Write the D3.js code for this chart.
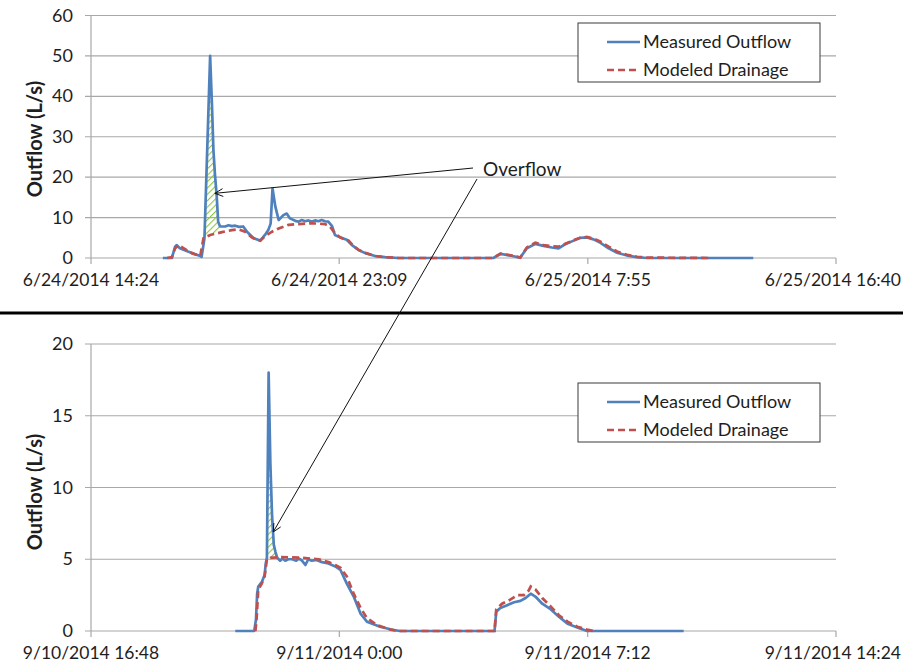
<!DOCTYPE html>
<html>
<head>
<meta charset="utf-8">
<script src="https://cdn.jsdelivr.net/npm/d3@7"></script>
<style>
  body { margin: 0; background: #fff; }
  svg { display: block; }
  text { font-family: Lato, "Open Sans", sans-serif; fill: #1e1e1e; }
</style>
</head>
<body>
<svg id="chart" width="903" height="667"></svg>
<script>
// ---- June 2014 event ----
const juneTicks = ["2014-06-24 14:24", "2014-06-24 23:09", "2014-06-25 07:55", "2014-06-25 16:40"];
const juneYTicks = [0, 10, 20, 30, 40, 50, 60];
const juneMeasured = [
  ["2014-06-24 16:56", 0], ["2014-06-24 17:15", 0], ["2014-06-24 17:22", 2.8], ["2014-06-24 17:25", 3.2],
  ["2014-06-24 17:32", 2.4], ["2014-06-24 17:49", 1.6], ["2014-06-24 18:15", 0.5], ["2014-06-24 18:18", 0.3],
  ["2014-06-24 18:24", 4.9], ["2014-06-24 18:36", 50], ["2014-06-24 18:40", 37.5], ["2014-06-24 18:43", 26.7],
  ["2014-06-24 18:46", 21], ["2014-06-24 18:50", 15.2], ["2014-06-24 18:53", 9], ["2014-06-24 18:57", 7.8],
  ["2014-06-24 19:08", 7.8], ["2014-06-24 19:15", 8.1], ["2014-06-24 19:22", 7.9], ["2014-06-24 19:29", 8.0],
  ["2014-06-24 19:37", 7.7], ["2014-06-24 19:46", 7.8], ["2014-06-24 19:54", 6.5], ["2014-06-24 20:08", 4.9],
  ["2014-06-24 20:22", 4.3], ["2014-06-24 20:32", 5.7], ["2014-06-24 20:39", 6.9], ["2014-06-24 20:44", 8.5],
  ["2014-06-24 20:48", 17.2], ["2014-06-24 20:54", 12.7], ["2014-06-24 21:01", 9.4], ["2014-06-24 21:11", 10.6],
  ["2014-06-24 21:18", 11], ["2014-06-24 21:25", 9.8], ["2014-06-24 21:36", 9.2], ["2014-06-24 21:43", 9.0],
  ["2014-06-24 21:50", 9.4], ["2014-06-24 21:57", 9.1], ["2014-06-24 22:04", 9.3], ["2014-06-24 22:11", 9.0],
  ["2014-06-24 22:18", 9.3], ["2014-06-24 22:25", 9.1], ["2014-06-24 22:32", 9.4], ["2014-06-24 22:39", 9.1],
  ["2014-06-24 22:46", 9.0], ["2014-06-24 22:54", 7.9], ["2014-06-24 23:00", 5.7], ["2014-06-24 23:11", 5.1],
  ["2014-06-24 23:25", 4.5], ["2014-06-24 23:36", 3.2], ["2014-06-24 23:50", 2.0], ["2014-06-25 00:04", 1.2],
  ["2014-06-25 00:25", 0.5], ["2014-06-25 00:46", 0.2], ["2014-06-25 01:14", 0], ["2014-06-25 04:35", 0],
  ["2014-06-25 04:50", 1.0], ["2014-06-25 04:57", 0.9], ["2014-06-25 05:15", 0.5], ["2014-06-25 05:32", 0.1],
  ["2014-06-25 05:46", 2.4], ["2014-06-25 06:04", 3.5], ["2014-06-25 06:21", 3.0], ["2014-06-25 06:39", 2.6],
  ["2014-06-25 06:53", 2.4], ["2014-06-25 07:07", 3.4], ["2014-06-25 07:25", 4.3], ["2014-06-25 07:39", 5.0],
  ["2014-06-25 07:53", 5.1], ["2014-06-25 08:07", 4.6], ["2014-06-25 08:21", 3.8], ["2014-06-25 08:39", 2.4],
  ["2014-06-25 08:57", 1.3], ["2014-06-25 09:18", 0.6], ["2014-06-25 09:39", 0.2], ["2014-06-25 10:00", 0],
  ["2014-06-25 13:45", 0]
];
const juneModeled = [
  ["2014-06-24 17:05", 0], ["2014-06-24 17:15", 0.2], ["2014-06-24 17:22", 2.4], ["2014-06-24 17:29", 3.2],
  ["2014-06-24 17:43", 2.2], ["2014-06-24 17:57", 1.2], ["2014-06-24 18:15", 0.5], ["2014-06-24 18:22", 4.9],
  ["2014-06-24 18:36", 5.7], ["2014-06-24 19:01", 6.4], ["2014-06-24 19:22", 6.9], ["2014-06-24 19:36", 7.1],
  ["2014-06-24 19:50", 6.5], ["2014-06-24 20:04", 5.1], ["2014-06-24 20:22", 4.3], ["2014-06-24 20:32", 5.4],
  ["2014-06-24 20:47", 6.5], ["2014-06-24 21:01", 7.3], ["2014-06-24 21:22", 8.2], ["2014-06-24 21:43", 8.4],
  ["2014-06-24 22:11", 8.6], ["2014-06-24 22:39", 8.4], ["2014-06-24 22:50", 7.7], ["2014-06-24 23:00", 6.1],
  ["2014-06-24 23:11", 5.1], ["2014-06-24 23:29", 4.3], ["2014-06-24 23:39", 3.0], ["2014-06-24 23:50", 2.0],
  ["2014-06-25 00:04", 1.3], ["2014-06-25 00:25", 0.5], ["2014-06-25 00:46", 0.2], ["2014-06-25 01:14", 0],
  ["2014-06-25 04:35", 0], ["2014-06-25 04:50", 1.1], ["2014-06-25 05:00", 0.9], ["2014-06-25 05:15", 0.6],
  ["2014-06-25 05:32", 0.1], ["2014-06-25 05:46", 2.6], ["2014-06-25 06:04", 3.8], ["2014-06-25 06:21", 3.2],
  ["2014-06-25 06:39", 2.9], ["2014-06-25 06:53", 2.8], ["2014-06-25 07:07", 3.5], ["2014-06-25 07:25", 4.4],
  ["2014-06-25 07:39", 5.0], ["2014-06-25 07:53", 5.2], ["2014-06-25 08:07", 4.8], ["2014-06-25 08:21", 4.1],
  ["2014-06-25 08:39", 2.8], ["2014-06-25 08:57", 1.6], ["2014-06-25 09:18", 0.8], ["2014-06-25 09:39", 0.3],
  ["2014-06-25 10:00", 0.1], ["2014-06-25 12:14", 0]
];
const juneOverflowWindow = ["2014-06-24 18:24", "2014-06-24 18:55"];

// ---- September 2014 event ----
const septTicks = ["2014-09-10 16:48", "2014-09-11 00:00", "2014-09-11 07:12", "2014-09-11 14:24"];
const septYTicks = [0, 5, 10, 15, 20];
const septMeasured = [
  ["2014-09-10 20:59", 0], ["2014-09-10 21:32", 0], ["2014-09-10 21:35", 0.8], ["2014-09-10 21:37", 2.6],
  ["2014-09-10 21:39", 3.1], ["2014-09-10 21:45", 3.4], ["2014-09-10 21:50", 3.9], ["2014-09-10 21:52", 4.7],
  ["2014-09-10 21:54", 5.1], ["2014-09-10 21:57", 18], ["2014-09-10 22:00", 11.7], ["2014-09-10 22:03", 8.0],
  ["2014-09-10 22:06", 6.0], ["2014-09-10 22:09", 5.5], ["2014-09-10 22:12", 5.1], ["2014-09-10 22:17", 4.9],
  ["2014-09-10 22:21", 5.05], ["2014-09-10 22:26", 4.9], ["2014-09-10 22:31", 5.0], ["2014-09-10 22:38", 5.0],
  ["2014-09-10 22:45", 4.9], ["2014-09-10 22:50", 5.05], ["2014-09-10 22:55", 4.9], ["2014-09-10 23:01", 4.6],
  ["2014-09-10 23:06", 5.0], ["2014-09-10 23:12", 4.9], ["2014-09-10 23:20", 4.95], ["2014-09-10 23:30", 4.8],
  ["2014-09-10 23:41", 4.7], ["2014-09-10 23:53", 4.5], ["2014-09-11 00:02", 4.25], ["2014-09-11 00:13", 3.3],
  ["2014-09-11 00:25", 2.4], ["2014-09-11 00:37", 1.2], ["2014-09-11 00:48", 0.65], ["2014-09-11 01:11", 0.3],
  ["2014-09-11 01:34", 0.07], ["2014-09-11 01:46", 0], ["2014-09-11 04:30", 0], ["2014-09-11 04:33", 1.35],
  ["2014-09-11 04:40", 1.6], ["2014-09-11 04:52", 1.8], ["2014-09-11 05:04", 2.0], ["2014-09-11 05:15", 2.1],
  ["2014-09-11 05:24", 2.3], ["2014-09-11 05:33", 2.6], ["2014-09-11 05:41", 2.4], ["2014-09-11 05:53", 1.9],
  ["2014-09-11 06:08", 1.5], ["2014-09-11 06:22", 1.0], ["2014-09-11 06:37", 0.5], ["2014-09-11 06:54", 0.25],
  ["2014-09-11 07:11", 0], ["2014-09-11 09:59", 0]
];
const septModeled = [
  ["2014-09-10 21:34", 0], ["2014-09-10 21:36", 0.8], ["2014-09-10 21:39", 2.9], ["2014-09-10 21:45", 3.3],
  ["2014-09-10 21:50", 3.8], ["2014-09-10 21:54", 5.0], ["2014-09-10 22:00", 5.1], ["2014-09-10 22:20", 5.15],
  ["2014-09-10 22:55", 5.1], ["2014-09-10 23:24", 5.0], ["2014-09-10 23:41", 4.8], ["2014-09-10 23:53", 4.6],
  ["2014-09-11 00:02", 4.4], ["2014-09-11 00:13", 3.8], ["2014-09-11 00:25", 2.6], ["2014-09-11 00:37", 1.6],
  ["2014-09-11 00:48", 0.9], ["2014-09-11 01:06", 0.4], ["2014-09-11 01:29", 0.1], ["2014-09-11 01:46", 0],
  ["2014-09-11 04:30", 0], ["2014-09-11 04:33", 1.5], ["2014-09-11 04:43", 1.9], ["2014-09-11 04:58", 2.2],
  ["2014-09-11 05:10", 2.5], ["2014-09-11 05:21", 2.5], ["2014-09-11 05:29", 2.8], ["2014-09-11 05:33", 3.1],
  ["2014-09-11 05:37", 3.0], ["2014-09-11 05:41", 2.9],
  ["2014-09-11 05:53", 2.3], ["2014-09-11 06:08", 1.7], ["2014-09-11 06:22", 1.1], ["2014-09-11 06:37", 0.65],
  ["2014-09-11 06:54", 0.3], ["2014-09-11 07:11", 0.1], ["2014-09-11 07:22", 0]
];
const septOverflowWindow = ["2014-09-10 21:54", "2014-09-10 22:12"];

const seriesNames = ["Measured Outflow", "Modeled Drainage"];
const yTitle = "Outflow (L/s)";
const annotationText = "Overflow";

// ---- drawing ----
const parse = d3.timeParse("%Y-%m-%d %H:%M");
const fmt = d3.timeFormat("%-m/%-d/%Y %-H:%M");
const svg = d3.select("#chart");
const W = 903;
const COL_MEAS = "#4f81bd", COL_MOD = "#c0504d", GRID = "#a8a8a8";

const defs = svg.append("defs");
const pat = defs.append("pattern").attr("id", "hatch")
  .attr("patternUnits", "userSpaceOnUse").attr("width", 4.5).attr("height", 4.5)
  .attr("patternTransform", "rotate(45)");
pat.append("line").attr("x1", 0).attr("y1", 0).attr("x2", 0).attr("y2", 4.5)
  .attr("stroke", "#8cc63f").attr("stroke-width", 2.2);

const toPts = arr => arr.map(([t, v]) => ({ t: parse(t), v }));
const bis = d3.bisector(d => d.t).left;
function valueAt(pts, t) {
  const i = bis(pts, t);
  if (i <= 0) return pts[0].v;
  if (i >= pts.length) return pts[pts.length - 1].v;
  const a = pts[i - 1], b = pts[i];
  return a.v + (b.v - a.v) * (t - a.t) / (b.t - a.t);
}

function drawPanel(cfg) {
  const g = svg.append("g");
  const x = d3.scaleTime().domain([parse(cfg.ticks[0]), parse(cfg.ticks[cfg.ticks.length - 1])]).range([91, 836]);
  const y = d3.scaleLinear().domain([0, d3.max(cfg.yTicks)]).range([cfg.bottom, cfg.top]);

  // horizontal gridlines
  g.selectAll(".grid").data(cfg.yTicks).join("line")
    .attr("x1", 85).attr("x2", 836).attr("y1", d => y(d)).attr("y2", d => y(d))
    .attr("stroke", GRID).attr("stroke-width", 1.2);
  // vertical axis line
  g.append("line").attr("x1", 91).attr("x2", 91).attr("y1", y.range()[1]).attr("y2", y.range()[0])
    .attr("stroke", GRID).attr("stroke-width", 1.2);
  g.selectAll(".ylab").data(cfg.yTicks).join("text")
    .attr("x", 73).attr("y", d => y(d) + 6).attr("text-anchor", "end")
    .attr("font-size", 18).text(d => d);

  // x ticks and labels (a label that would run past the right edge is pulled back in)
  const xt = cfg.ticks.map(parse);
  g.selectAll(".xtick").data(xt).join("line")
    .attr("x1", d => x(d)).attr("x2", d => x(d)).attr("y1", cfg.bottom).attr("y2", cfg.bottom + 6)
    .attr("stroke", GRID).attr("stroke-width", 1.2);
  g.selectAll(".xlab").data(xt).join("text")
    .attr("x", d => x(d)).attr("y", cfg.bottom + 28).attr("text-anchor", "middle")
    .attr("font-size", 17.5).text(d => fmt(d))
    .each(function () {
      const b = this.getBBox();
      if (b.x + b.width > W - 2) this.setAttribute("x", +this.getAttribute("x") - (b.x + b.width - (W - 2)));
    });

  // y title
  g.append("text").attr("transform", `translate(42,${cfg.titleY}) rotate(-90)`)
    .attr("text-anchor", "middle").attr("font-size", 20).attr("font-weight", 700).text(yTitle);

  const meas = toPts(cfg.measured), mod = toPts(cfg.modeled);

  // hatched overflow region between the two curves
  const w0 = parse(cfg.window[0]), w1 = parse(cfg.window[1]);
  const times = Array.from(new Set([w0, w1, ...meas.map(d => d.t), ...mod.map(d => d.t)]
    .filter(t => t >= w0 && t <= w1).map(t => +t))).sort((a, b) => a - b).map(t => new Date(t));
  const band = times.map(t => ({ t, lo: valueAt(mod, t), hi: Math.max(valueAt(meas, t), valueAt(mod, t)) }));
  g.append("path").datum(band)
    .attr("d", d3.area().x(d => x(d.t)).y0(d => y(d.lo)).y1(d => y(d.hi)))
    .attr("fill", "url(#hatch)");

  const line = d3.line().x(d => x(d.t)).y(d => y(d.v));
  g.append("path").datum(meas).attr("d", line).attr("fill", "none")
    .attr("stroke", COL_MEAS).attr("stroke-width", 2.7).attr("stroke-linejoin", "round");
  g.append("path").datum(mod).attr("d", line).attr("fill", "none")
    .attr("stroke", COL_MOD).attr("stroke-width", 2.7).attr("stroke-dasharray", "7,4");

  // legend
  const lg = g.append("g").attr("transform", `translate(578,${cfg.legendY})`);
  lg.append("rect").attr("width", 242).attr("height", 59).attr("fill", "#fff")
    .attr("stroke", "#3a3a3a").attr("stroke-width", 1);
  [[COL_MEAS, null], [COL_MOD, "7,4"]].forEach(([c, dash], i) => {
    const yy = 19 + i * 28;
    lg.append("line").attr("x1", 29).attr("x2", 62).attr("y1", yy).attr("y2", yy)
      .attr("stroke", c).attr("stroke-width", 2.7).attr("stroke-dasharray", dash);
    lg.append("text").attr("x", 65).attr("y", yy + 6).attr("font-size", 18).text(seriesNames[i]);
  });
  return { x, y, meas };
}

const junePanel = drawPanel({ ticks: juneTicks, yTicks: juneYTicks, measured: juneMeasured, modeled: juneModeled,
  window: juneOverflowWindow, top: 15.5, bottom: 258, titleY: 139, legendY: 23 });
const septPanel = drawPanel({ ticks: septTicks, yTicks: septYTicks, measured: septMeasured, modeled: septModeled,
  window: septOverflowWindow, top: 344, bottom: 631, titleY: 492, legendY: 383 });

// divider between the two events
svg.append("line").attr("x1", 0).attr("x2", W).attr("y1", 313).attr("y2", 313)
  .attr("stroke", "#000").attr("stroke-width", 3);

// annotation
svg.append("text").attr("x", 483).attr("y", 176).attr("font-size", 19).text(annotationText);
function arrow(x1, y1, x2, y2) {
  svg.append("line").attr("x1", x1).attr("y1", y1).attr("x2", x2).attr("y2", y2)
    .attr("stroke", "#111").attr("stroke-width", 1);
  const a = Math.atan2(y1 - y2, x1 - x2), L = 9, s = 0.45;
  svg.append("path")
    .attr("d", `M${x2 + L * Math.cos(a + s)},${y2 + L * Math.sin(a + s)} L${x2},${y2} L${x2 + L * Math.cos(a - s)},${y2 + L * Math.sin(a - s)}`)
    .attr("fill", "none").attr("stroke", "#111").attr("stroke-width", 1);
}
// arrow tips sit on the overflow regions
const tipTop = parse("2014-06-24 18:46"), tipBot = parse("2014-09-10 22:05");
arrow(473, 168, junePanel.x(tipTop), junePanel.y(16));
arrow(477, 179, septPanel.x(tipBot), septPanel.y(6.9));
</script>
</body>
</html>
